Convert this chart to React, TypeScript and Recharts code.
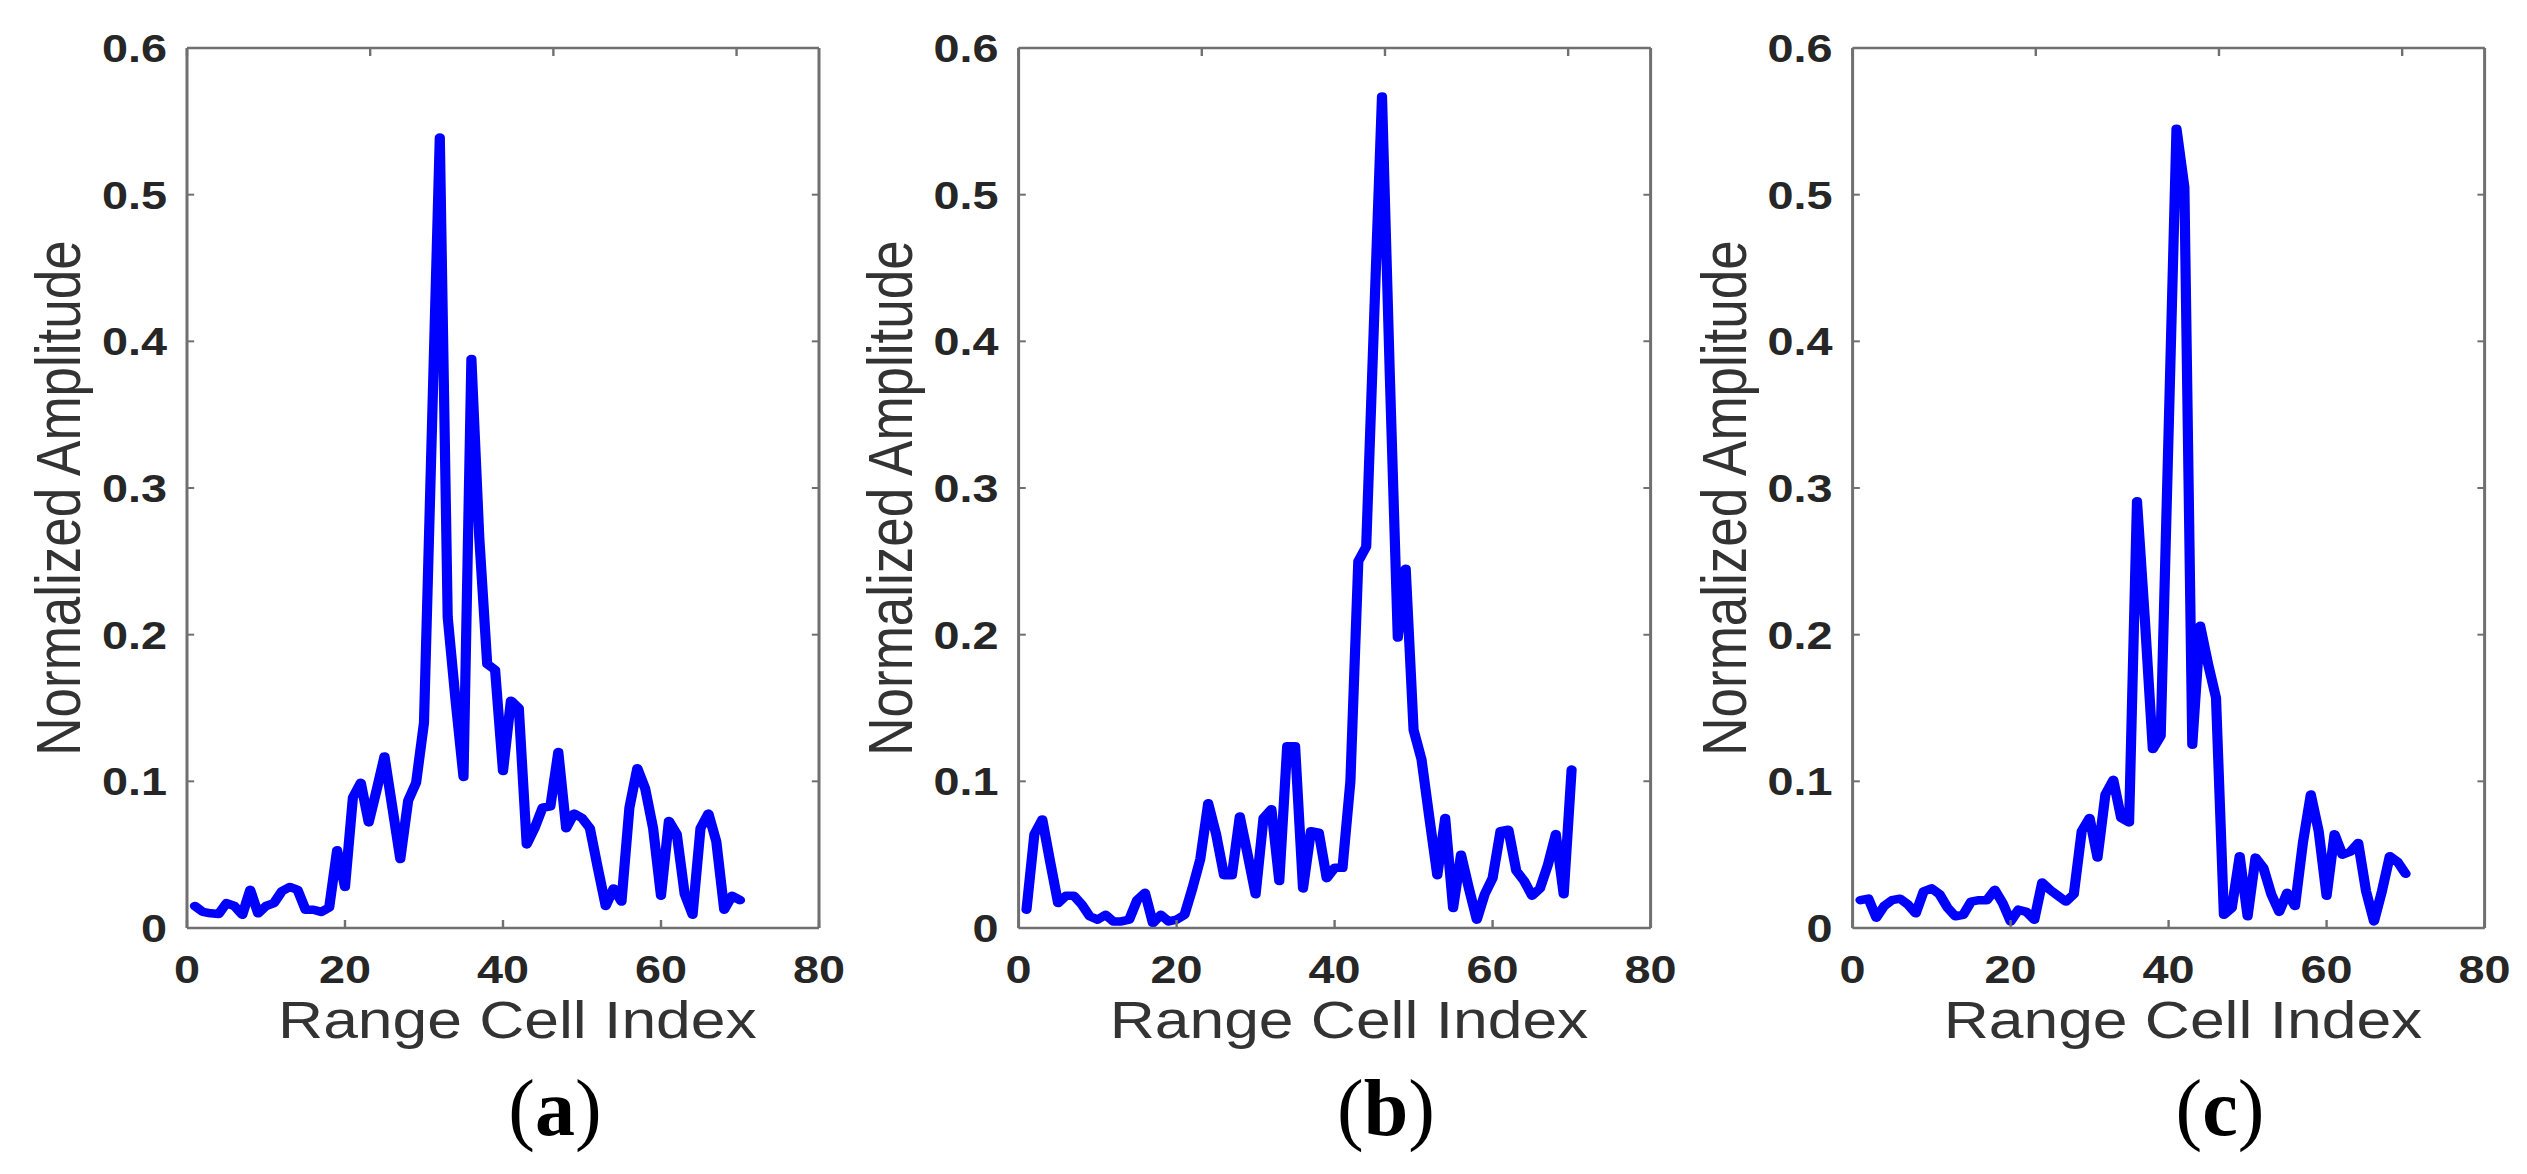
import React from 'react';
import { LineChart, Line, XAxis, YAxis } from 'recharts';

// ---------- data ----------
const rangeCells = [
  1, 2, 3, 4, 5, 6, 7, 8, 9, 10, 11, 12, 13, 14, 15, 16, 17, 18, 19, 20,
  21, 22, 23, 24, 25, 26, 27, 28, 29, 30, 31, 32, 33, 34, 35, 36, 37, 38, 39, 40,
  41, 42, 43, 44, 45, 46, 47, 48, 49, 50, 51, 52, 53, 54, 55, 56, 57, 58, 59, 60,
  61, 62, 63, 64, 65, 66, 67, 68, 69, 70,
];

const amplitudeA = [
  0.015, 0.011, 0.010, 0.0095, 0.017, 0.015, 0.009, 0.026, 0.010, 0.015,
  0.017, 0.025, 0.028, 0.026, 0.0125, 0.0125, 0.011, 0.014, 0.053, 0.028,
  0.089, 0.099, 0.072, 0.094, 0.117, 0.082, 0.047, 0.087, 0.099, 0.14,
  0.34, 0.539, 0.212, 0.155, 0.103, 0.388, 0.266, 0.18, 0.176, 0.107,
  0.155, 0.150, 0.057, 0.068, 0.082, 0.083, 0.12, 0.068, 0.078, 0.075,
  0.068, 0.041, 0.015, 0.027, 0.018, 0.082, 0.109, 0.095, 0.068, 0.022,
  0.073, 0.064, 0.023, 0.009, 0.068, 0.078, 0.059, 0.0125, 0.022, 0.019,
];

const amplitudeB = [
  0.0125, 0.064, 0.074, 0.045, 0.017, 0.022, 0.022, 0.016, 0.008, 0.0057,
  0.009, 0.0045, 0.0045, 0.0057, 0.019, 0.024, 0.0034, 0.009, 0.0045, 0.0057,
  0.009, 0.027, 0.047, 0.085, 0.064, 0.036, 0.036, 0.076, 0.05, 0.023,
  0.075, 0.081, 0.032, 0.124, 0.124, 0.027, 0.066, 0.065, 0.034, 0.041,
  0.041, 0.10, 0.25, 0.26, 0.415, 0.567, 0.375, 0.198, 0.245, 0.135,
  0.115, 0.075, 0.036, 0.075, 0.0136, 0.05, 0.027, 0.0057, 0.023, 0.034,
  0.066, 0.067, 0.039, 0.032, 0.022, 0.027, 0.043, 0.064, 0.023, 0.108,
];

const amplitudeC = [
  0.019, 0.020, 0.007, 0.015, 0.019, 0.020, 0.016, 0.010, 0.025, 0.027,
  0.023, 0.014, 0.008, 0.009, 0.018, 0.019, 0.019, 0.026, 0.017, 0.0045,
  0.0125, 0.011, 0.0057, 0.031, 0.026, 0.022, 0.018, 0.023, 0.066, 0.075,
  0.048, 0.091, 0.101, 0.075, 0.072, 0.291, 0.21, 0.122, 0.131, 0.338,
  0.545, 0.505, 0.125, 0.206, 0.18, 0.157, 0.009, 0.0136, 0.049, 0.008,
  0.048, 0.041, 0.023, 0.011, 0.024, 0.015, 0.058, 0.091, 0.066, 0.022,
  0.064, 0.05, 0.052, 0.058, 0.025, 0.0045, 0.025, 0.049, 0.045, 0.037,
];

const xTicks = [0, 20, 40, 60, 80];
const yTicks = [0, 0.1, 0.2, 0.3, 0.4, 0.5, 0.6];
const yTickLabels = ['0', '0.1', '0.2', '0.3', '0.4', '0.5', '0.6'];
const seriesKeys = ['a', 'b', 'c'];
const panelLabels = ['a', 'b', 'c'];
const xAxisTitle = 'Range Cell Index';
const yAxisTitle = 'Normalized Amplitude';

const rows = rangeCells.map((cell, i) => ({
  cell,
  a: amplitudeA[i],
  b: amplitudeB[i],
  c: amplitudeC[i],
}));

// ---------- layout ----------
const PAGE_W = 2527;
const PAGE_H = 1174;
const STRETCH = 1.2;
const BASE_W = PAGE_W / STRETCH;
const PLOT_W = 526.67;
const PLOT_LEFT_IN_CHART = 155.83;
const CHART_W = 740;
const CHART_LEFTS = [0, 692.5, 1387.5];
const LEFT_AXIS_W = 60;
const RIGHT_AXIS_W = 10;
const BOTTOM_AXIS_H = 40;
const TOP_AXIS_H = 10;
const MARGIN = {
  top: 48 - TOP_AXIS_H,
  right: CHART_W - PLOT_LEFT_IN_CHART - PLOT_W - RIGHT_AXIS_W,
  bottom: 246 - BOTTOM_AXIS_H,
  left: PLOT_LEFT_IN_CHART - LEFT_AXIS_W,
};
const CAPTION_X = [555, 1386, 2220];

const AXIS_COLOR = '#707070';
const TEXT_COLOR = '#262626';
const SANS = '"Liberation Sans", Arial, Helvetica, sans-serif';
const SERIF = '"Liberation Serif", "Times New Roman", Times, serif';
const TICK_LEN_V = 8;
const TICK_LEN_H = 6;

const BottomTick = (props: any) => {
  const { x, y, payload } = props;
  return (
    <g>
      <line x1={x} x2={x} y1={y} y2={y - TICK_LEN_V} stroke={AXIS_COLOR} strokeWidth={2} />
      <text
        x={x}
        y={y + 41}
        dy="0.36em"
        textAnchor="middle"
        fontFamily={SANS}
        fontWeight="bold"
        fontSize={39}
        fill={TEXT_COLOR}
      >
        {payload.value}
      </text>
    </g>
  );
};

const TopTick = (props: any) => {
  const { x, y } = props;
  return <line x1={x} x2={x} y1={y} y2={y + TICK_LEN_V} stroke={AXIS_COLOR} strokeWidth={2} />;
};

const LeftTick = (props: any) => {
  const { x, y, payload } = props;
  const idx = yTicks.indexOf(payload.value);
  return (
    <g>
      <line x1={x} x2={x + TICK_LEN_H} y1={y} y2={y} stroke={AXIS_COLOR} strokeWidth={2} />
      <text
        x={x - 16.7}
        y={y}
        dy="0.36em"
        textAnchor="end"
        fontFamily={SANS}
        fontWeight="bold"
        fontSize={39}
        fill={TEXT_COLOR}
      >
        {idx >= 0 ? yTickLabels[idx] : payload.value}
      </text>
    </g>
  );
};

const RightTick = (props: any) => {
  const { x, y } = props;
  return <line x1={x} x2={x - TICK_LEN_H} y1={y} y2={y} stroke={AXIS_COLOR} strokeWidth={2} />;
};

const XTitle = (props: any) => {
  const vb = props.viewBox || {};
  return (
    <text
      x={vb.x + vb.width / 2 + 12}
      y={vb.y + 110}
      textAnchor="middle"
      fontFamily={SANS}
      fontSize={52}
      fill="#333333"
    >
      {xAxisTitle}
    </text>
  );
};

const YTitle = (props: any) => {
  const vb = props.viewBox || {};
  const cx = vb.x + vb.width - 89;
  const cy = vb.y + vb.height / 2 + 10;
  return (
    <text
      x={cx}
      y={cy}
      transform={`rotate(-90 ${cx} ${cy})`}
      textAnchor="middle"
      fontFamily={SANS}
      fontSize={53}
      fill="#333333"
    >
      {yAxisTitle}
    </text>
  );
};

const Panel = ({ dataKey }: { dataKey: string }) => (
  <LineChart width={CHART_W} height={PAGE_H} data={rows} margin={MARGIN}>
    <XAxis
      dataKey="cell"
      type="number"
      domain={[0, 80]}
      ticks={xTicks}
      interval={0}
      height={BOTTOM_AXIS_H}
      tickSize={0}
      tickMargin={0}
      axisLine={{ stroke: AXIS_COLOR, strokeWidth: 2.5 }}
      tickLine={false}
      tick={BottomTick}
      label={XTitle}
      allowDataOverflow
    />
    <XAxis
      xAxisId="top"
      orientation="top"
      type="number"
      domain={[0, 80]}
      ticks={xTicks}
      interval={0}
      height={TOP_AXIS_H}
      tickSize={0}
      tickMargin={0}
      axisLine={{ stroke: AXIS_COLOR, strokeWidth: 2.5 }}
      tickLine={false}
      tick={TopTick}
      allowDataOverflow
    />
    <YAxis
      type="number"
      domain={[0, 0.6]}
      ticks={yTicks}
      interval={0}
      width={LEFT_AXIS_W}
      tickSize={0}
      tickMargin={0}
      axisLine={{ stroke: AXIS_COLOR, strokeWidth: 2.5 }}
      tickLine={false}
      tick={LeftTick}
      label={YTitle}
      allowDataOverflow
    />
    <YAxis
      yAxisId="right"
      orientation="right"
      type="number"
      domain={[0, 0.6]}
      ticks={yTicks}
      interval={0}
      width={RIGHT_AXIS_W}
      tickSize={0}
      tickMargin={0}
      axisLine={{ stroke: AXIS_COLOR, strokeWidth: 2.5 }}
      tickLine={false}
      tick={RightTick}
      allowDataOverflow
    />
    <Line
      type="linear"
      dataKey={dataKey}
      stroke="#0000ff"
      strokeWidth={8.5}
      strokeLinejoin="round"
      strokeLinecap="round"
      dot={false}
      activeDot={false}
      isAnimationActive={false}
    />
  </LineChart>
);

export default function App() {
  return (
    <div
      style={{
        position: 'absolute',
        left: 0,
        top: 0,
        width: PAGE_W,
        height: PAGE_H,
        overflow: 'hidden',
        background: '#ffffff',
      }}
    >
      <div
        style={{
          position: 'absolute',
          left: 0,
          top: 0,
          width: BASE_W,
          height: PAGE_H,
          transform: `scaleX(${STRETCH})`,
          transformOrigin: '0 0',
        }}
      >
        {seriesKeys.map((key, i) => (
          <div key={key} style={{ position: 'absolute', left: CHART_LEFTS[i], top: 0 }}>
            <Panel dataKey={key} />
          </div>
        ))}
      </div>
      <svg
        width={PAGE_W}
        height={PAGE_H}
        style={{ position: 'absolute', left: 0, top: 0, pointerEvents: 'none' }}
      >
        {panelLabels.map((lab, i) => (
          <text
            key={lab}
            x={CAPTION_X[i]}
            y={1135}
            textAnchor="middle"
            fontFamily={SERIF}
            fontSize={80}
            fill="#000000"
          >
            (<tspan fontWeight="bold">{lab}</tspan>)
          </text>
        ))}
      </svg>
    </div>
  );
}
